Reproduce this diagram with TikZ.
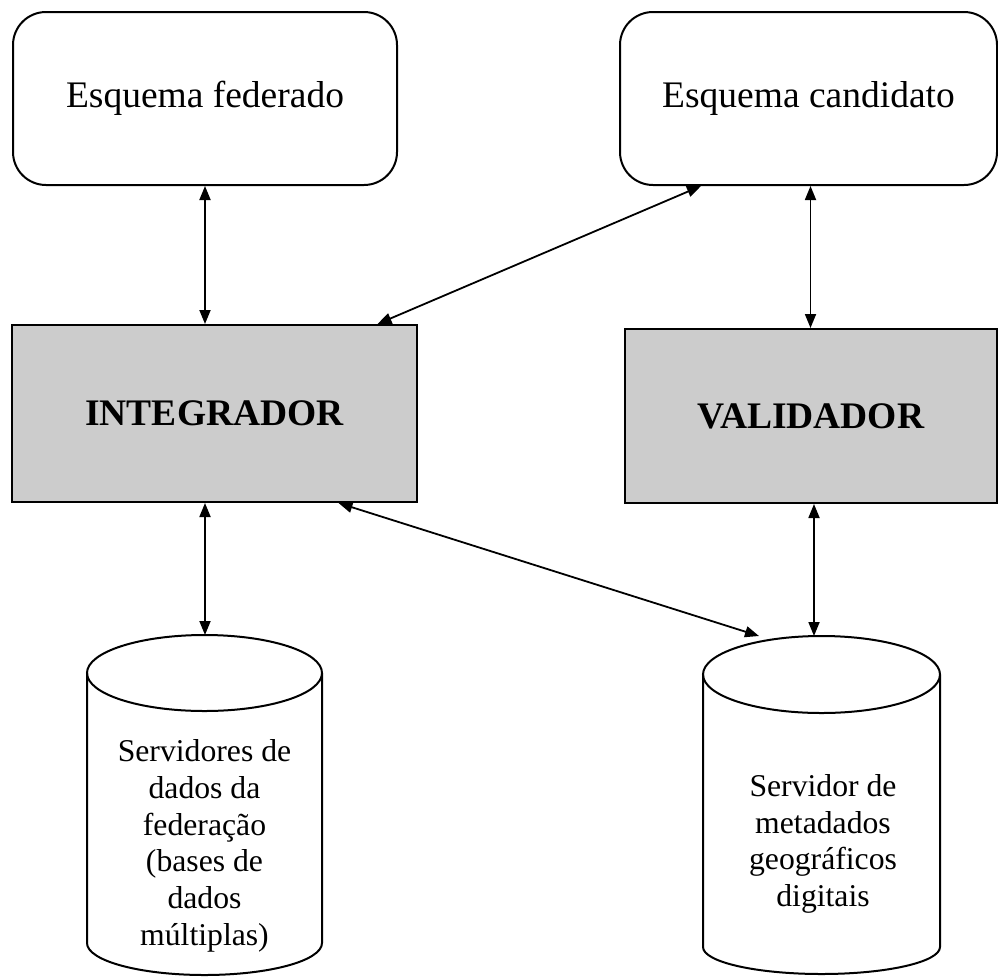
\documentclass[tikz,border=0pt]{standalone}
\usepackage{fontspec}
\setmainfont{Liberation Serif}
\usetikzlibrary{arrows.meta, positioning}

\begin{document}
\begin{tikzpicture}[
    x=1pt, y=-1pt,
    schema/.style={rectangle, rounded corners=33pt, draw, line width=2pt,
        minimum width=384pt, minimum height=173pt,
        font=\fontsize{37.5}{43}\selectfont},
    module/.style={rectangle, draw, line width=2pt, fill=black!20,
        font=\fontsize{37.5}{43}\selectfont\bfseries},
    dbtext/.style={align=center, font=\fontsize{31.7}{36.7}\selectfont},
    cyl/.style={line width=2pt},
    link/.style={{Triangle[length=14pt,width=11pt]}-{Triangle[length=14pt,width=11pt]}, line width=1.8pt}
]
\useasboundingbox (0,0) rectangle (998,977);

% Schema boxes
\node[schema] (fed) at (205,98.5) {Esquema federado};
\node[schema, minimum width=377pt] (cand) at (808.5,98.5) {Esquema candidato};

% Modules
\node[module, minimum width=405pt, minimum height=177pt] (int) at (214.5,413.5) {INTEGRADOR};
\node[module, minimum width=372pt, minimum height=174pt] (val) at (811,416) {VALIDADOR};

% Data servers (cylinders)
\draw[cyl] (87,673) -- (87,943) arc[start angle=180, end angle=360, x radius=117.5pt, y radius=32pt] -- (322,673);
\draw[cyl] (204.5,673) ellipse [x radius=117.5pt, y radius=38pt];
\draw[cyl] (703,674.5) -- (703,947) arc[start angle=180, end angle=360, x radius=118.5pt, y radius=27pt] -- (940,674.5);
\draw[cyl] (821.5,674.5) ellipse [x radius=118.5pt, y radius=38.5pt];
\coordinate (dadostop) at (205,635);
\coordinate (metatop) at (814,636);
\coordinate (metaedge) at (759,636);

\node[dbtext] (dados) at (204.5,846) {Servidores de\\dados da\\federação\\(bases de\\dados\\múltiplas)};
\node[dbtext] (meta) at (823,844) {Servidor de\\metadados\\geográficos\\digitais};

% Connections
\draw[link] (fed.south) -- (int.north -| fed.south);
\draw[link] ([xshift=82pt]cand.south west) -- ([xshift=163pt]int.north);
\draw[link] ([xshift=2pt]cand.south) -- ([xshift=2pt]val.north -| cand.south);
\draw[link] (int.south -| dadostop) -- (dadostop);
\draw[link] ([xshift=124pt]int.south) -- (metaedge);
\draw[link] (val.south -| metatop) -- (metatop);

\end{tikzpicture}
\end{document}
